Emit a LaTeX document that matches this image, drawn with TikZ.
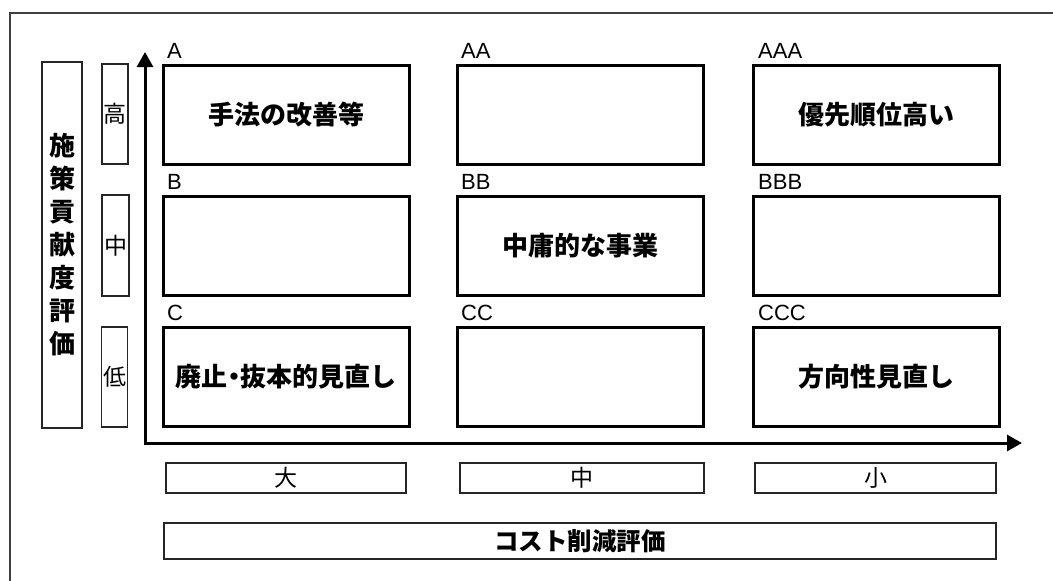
\documentclass[tikz,border=0pt]{standalone}
\usepackage{fontspec}
\setmainfont{Liberation Sans}
\newfontfamily\jp{Noto Sans CJK JP}
\usetikzlibrary{arrows.meta}
\newcommand{\halfdot}{\hbox to 0.5em{\hss・\hss}}
\tikzset{
  cell/.style={draw=black, line width=3pt, minimum width=246pt, minimum height=99pt, inner sep=0pt,
    font={\jp\bfseries\fontsize{26}{26}\selectfont}},
  tag/.style={draw=black!85, line width=1.4pt, inner sep=0pt,
    font={\jp\fontsize{23}{23}\selectfont}},
  bigtag/.style={draw=black!85, line width=1.4pt, inner sep=0pt,
    font={\jp\bfseries\fontsize{24.5}{24.5}\selectfont}},
  corner/.style={anchor=base west, inner sep=0pt, font={\fontsize{22}{22}\selectfont}},
  axis/.style={line width=3pt, {Triangle[length=15pt,width=16pt]}-{Triangle[length=15pt,width=16pt]}},
  frame/.style={draw=black!75, line width=1.5pt}
}
\begin{document}
\begin{tikzpicture}[x=1pt,y=-1pt]
\useasboundingbox (0,0) rectangle (1053,581);
% outer frame (cut by the image edge)
\coordinate (fbl) at (10,585);
\coordinate (ftl) at (10,13);
\coordinate (ftr) at (1058,13);
\draw[frame] (fbl) -- (ftl) -- (ftr);

% left labels
\node[bigtag, minimum width=40pt, minimum height=366pt, align=center,
      font={\jp\bfseries\fontsize{26}{33}\selectfont}] (policy) at (62,245)
  {施\\策\\貢\\献\\度\\評\\価};
\node[tag, minimum width=26pt, minimum height=100pt] (hi) at (115,114) {高};
\node[tag, minimum width=27pt, minimum height=101pt] (mid) at (115.5,245.5) {中};
\node[tag, minimum width=26pt, minimum height=100pt] (lo) at (114.5,377) {低};

% axes
\coordinate (o) at (145,443);
\coordinate (yend) at (145,52);
\coordinate (xend) at (1022,443);
\draw[axis] (yend) -- (o) -- (xend);

% grid cells
\node[cell] (A)   at (286,114.5) {手法の改善等};
\node[cell] (AA)  at (580.5,114.5) {};
\node[cell] (AAA) at (876,114.5) {優先順位高い};
\node[cell] (B)   at (286,245.5) {};
\node[cell] (BB)  at (580.5,245.5) {中庸的な事業};
\node[cell] (BBB) at (876,245.5) {};
\node[cell] (C)   at (286,376.5) {廃止\halfdot 抜本的見直し};
\node[cell] (CC)  at (580.5,376.5) {};
\node[cell] (CCC) at (876,376.5) {方向性見直し};

% cell names
\node[corner] (tA)   at (167,58) {A};
\node[corner] (tAA)  at (461,58) {AA};
\node[corner] (tAAA) at (758,58) {AAA};
\node[corner] (tB)   at (167,189) {B};
\node[corner] (tBB)  at (461,189) {BB};
\node[corner] (tBBB) at (758,189) {BBB};
\node[corner] (tC)   at (167,320) {C};
\node[corner] (tCC)  at (461,320) {CC};
\node[corner] (tCCC) at (758,320) {CCC};

% bottom labels
\node[tag, minimum width=240pt, minimum height=30pt] (big) at (286,478) {大};
\node[tag, minimum width=244pt, minimum height=30pt] (med) at (582,478) {中};
\node[tag, minimum width=241pt, minimum height=30pt] (small) at (875.5,478) {小};
\node[bigtag, minimum width=832pt, minimum height=36pt] (cost) at (580,541) {コスト削減評価};
\end{tikzpicture}
\end{document}
